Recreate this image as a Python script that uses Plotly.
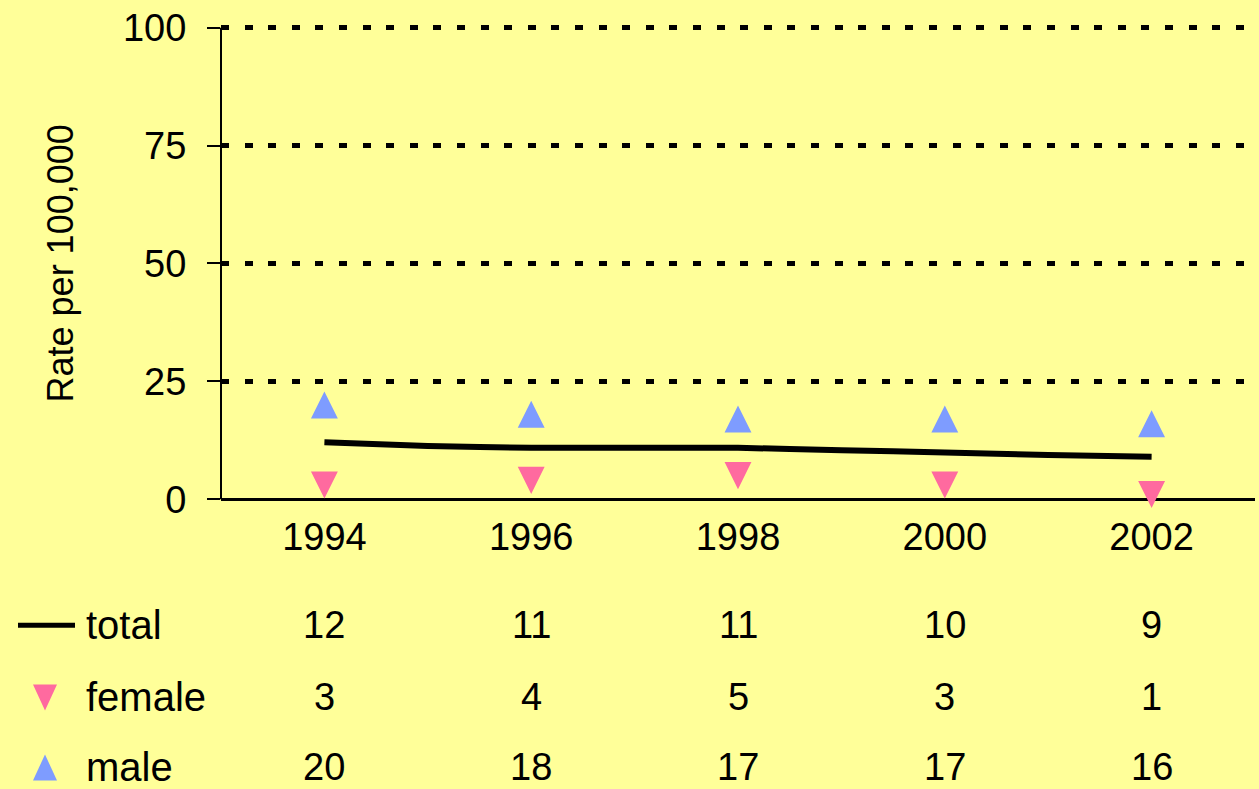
import plotly.graph_objects as go

# ---- data ----
years_total = [1994, 1995, 1996, 1997, 1998, 1999, 2000, 2001, 2002]
total = [12.1, 11.3, 10.9, 10.9, 10.9, 10.4, 9.9, 9.4, 9.0]

years = [1994, 1996, 1998, 2000, 2002]
year_labels = ["1994", "1996", "1998", "2000", "2002"]
total_table = [12, 11, 11, 10, 9]
female = [3, 4, 5, 3, 1]
male = [20, 18, 17, 17, 16]

y_ticks = [0, 25, 50, 75, 100]
row_names = ["total", "female", "male"]

# ---- styles ----
BG = "#FFFF99"
PINK = "#FF6A9F"
BLUE = "#7E9CFF"
FONT = "Liberation Sans"
HW = 0.13   # triangle half width (years)
HH = 2.87   # triangle half height (rate units)


def triangles(xs, vs, up):
    X, Y = [], []
    for x, v in zip(xs, vs):
        base = v - HH if up else v + HH
        tip = v + HH if up else v - HH
        X += [x - HW, x + HW, x, x - HW, None]
        Y += [base, base, tip, base, None]
    return X, Y


fig = go.Figure()

fx, fy = triangles(years, female, up=False)
fig.add_trace(go.Scatter(x=fx, y=fy, mode="lines", fill="toself",
                         fillcolor=PINK, line=dict(width=0, color=PINK),
                         name="female", hoverinfo="skip"))
mx, my = triangles(years, male, up=True)
fig.add_trace(go.Scatter(x=mx, y=my, mode="lines", fill="toself",
                         fillcolor=BLUE, line=dict(width=0, color=BLUE),
                         name="male", hoverinfo="skip"))
fig.add_trace(go.Scatter(x=years_total, y=total, mode="lines",
                         line=dict(color="black", width=6, shape="spline", smoothing=0.3),
                         name="total"))

# geometry helpers for table rows (paper coords)
PLOT_TOP, PLOT_BOT = 23.3, 510.8
def py(pix):
    return (PLOT_BOT - pix) / (PLOT_BOT - PLOT_TOP)
def px(pix):
    return (pix - 221) / 1034.0

row_y = [py(625), py(697), py(767)]
row_vals = [total_table, female, male]

annotations = []
for name, yy, vals in zip(row_names, row_y, row_vals):
    annotations.append(dict(text=name, xref="paper", yref="paper", x=px(84), y=yy,
                            xanchor="left", yanchor="middle", showarrow=False,
                            font=dict(family=FONT, size=40, color="black")))
    for xv, v in zip(years, vals):
        annotations.append(dict(text=str(v), xref="x", yref="paper", x=xv, y=yy,
                                xanchor="center", yanchor="middle", showarrow=False,
                                font=dict(family=FONT, size=38, color="black")))

annotations.append(dict(text="Rate per 100,000", xref="paper", yref="y",
                        x=px(60), y=50, textangle=-90, xanchor="center",
                        yanchor="middle", showarrow=False,
                        font=dict(family=FONT, size=36, color="black")))

shapes = [
    # y axis line (0..100)
    dict(type="line", xref="paper", yref="y", x0=0, x1=0, y0=0, y1=100,
         line=dict(color="black", width=2)),
    # legend symbols
    dict(type="line", xref="paper", yref="paper", x0=px(18), x1=px(75),
         y0=row_y[0], y1=row_y[0], line=dict(color="black", width=5)),
    dict(type="path", xref="paper", yref="paper", xsizemode="pixel", ysizemode="pixel",
         xanchor=px(45), yanchor=row_y[1], path="M-12,13 L12,13 L0,-13 Z",
         fillcolor=PINK, line=dict(width=0)),
    dict(type="path", xref="paper", yref="paper", xsizemode="pixel", ysizemode="pixel",
         xanchor=px(45), yanchor=row_y[2], path="M-12,-13 L12,-13 L0,13 Z",
         fillcolor=BLUE, line=dict(width=0)),
]

fig.update_layout(
    width=1259, height=789,
    paper_bgcolor=BG, plot_bgcolor=BG,
    margin=dict(l=221, r=4, t=23.3, b=278.2),
    showlegend=False,
    annotations=annotations,
    shapes=shapes,
    xaxis=dict(range=[1993, 2003], tickvals=years, ticktext=year_labels,
               showline=False, showgrid=False, zeroline=False, ticks="",
               tickfont=dict(family=FONT, size=38, color="black")),
    yaxis=dict(range=[-2.5, 101], tickvals=y_ticks, showgrid=True,
               gridcolor="black", gridwidth=5, griddash="8px,15.6px",
               zeroline=True, zerolinecolor="black", zerolinewidth=3,
               showline=False, ticks="outside", ticklen=13, tickwidth=2,
               tickcolor="black", ticklabelstandoff=13,
               tickfont=dict(family=FONT, size=38, color="black")),
)

fig.write_html(
    "out.html",
    config={"displayModeBar": False},
    post_script="document.body.style.margin='0px'; document.body.style.background='#FFFF99'; document.documentElement.style.overflow='hidden';",
)
